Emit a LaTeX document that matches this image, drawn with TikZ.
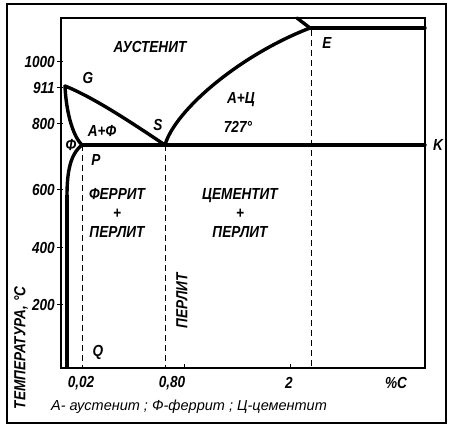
\documentclass[tikz,border=0pt]{standalone}
\usepackage{fontspec}
\setmainfont{Liberation Sans}
\newfontfamily\handfont{Liberation Sans}[FakeStretch=0.85]
\usetikzlibrary{positioning}
\pgfdeclarelayer{nodelayer}
\pgfdeclarelayer{edgelayer}
\pgfsetlayers{nodelayer,edgelayer,main}
\tikzset{
    none/.style = {inner sep=0pt},
    lbl/.style = {inner sep=0pt, font=\handfont\bfseries\itshape\fontsize{16}{19}\selectfont, align=center},
    legend/.style = {inner sep=0pt, font=\itshape\fontsize{14.5}{14.5}\selectfont},
    frame/.style = {line width=1.3pt},
    phase/.style = {line width=3.4pt, line cap=round},
    boundary/.style = {line width=0.9pt, dash pattern=on 6pt off 4pt}
}

\begin{document}
\begin{tikzpicture}[x=1pt, y=-1pt]
    \useasboundingbox (0,0) rectangle (450,430);
    \begin{pgfonlayer}{nodelayer}
        % frames
        \node [style=none] (0) at (7, 4) {};
        \node [style=none] (1) at (446, 423) {};
        \node [style=none] (2) at (61, 18) {};
        \node [style=none] (3) at (425, 368) {};
        % points of the diagram
        \node [style=none] (4) at (65, 86) {};
        \node [style=none] (5) at (165, 145) {};
        \node [style=none] (6) at (82, 145) {};
        \node [style=none] (7) at (425, 145) {};
        \node [style=none] (8) at (310, 28) {};
        \node [style=none] (9) at (297, 18) {};
        \node [style=none] (10) at (425, 28) {};
        \node [style=none] (11) at (67, 195) {};
        \node [style=none] (12) at (67, 367) {};
        \node [style=none] (13) at (82, 367) {};
        \node [style=none] (14) at (165, 367) {};
        \node [style=none] (15) at (311, 367) {};
        \node [style=none] (16) at (311, 30) {};
        % labels
        \node [style=lbl] (17) at (150, 47) {АУСТЕНИТ};
        \node [style=lbl] (18) at (88, 78) {G};
        \node [style=lbl] (19) at (158, 125) {S};
        \node [style=lbl] (20) at (102, 131) {А+Ф};
        \node [style=lbl] (21) at (71, 145) {Ф};
        \node [style=lbl] (22) at (96, 160) {P};
        \node [style=lbl] (23) at (327, 43) {E};
        \node [style=lbl] (24) at (241, 100) {А+Ц};
        \node [style=lbl] (25) at (238, 127) {727°};
        \node [style=lbl] (26) at (438, 145) {K};
        \node [style=lbl] (27) at (117, 213) {ФЕРРИТ\\+\\ПЕРЛИТ};
        \node [style=lbl] (28) at (240, 213) {ЦЕМЕНТИТ\\+\\ПЕРЛИТ};
        \node [style=lbl, rotate=90] (29) at (182, 301) {ПЕРЛИТ};
        \node [style=lbl] (30) at (98, 352) {Q};
        \node [style=lbl] (31) at (81, 383) {0,02};
        \node [style=lbl] (32) at (172, 383) {0,80};
        \node [style=lbl] (33) at (289, 383) {2};
        \node [style=lbl] (34) at (396, 383) {\%C};
        \node [style=legend] (35) at (189, 407) {А- аустенит ; Ф-феррит ; Ц-цементит};
        \node [style=lbl, rotate=90] (36) at (21, 348) {ТЕМПЕРАТУРА, °С};
    \end{pgfonlayer}
    \begin{pgfonlayer}{edgelayer}
        \draw [line width=1.1pt] (0.center) rectangle (1.center);
        \draw [frame] (2.center) rectangle (3.center);
        % temperature scale
        \foreach \t/\y in {1000/62, 911/88, 800/124, 600/190, 400/248, 200/305} {
            \draw [line width=1pt] (57, \y) -- (63, \y);
            \node [style=lbl, anchor=east] at (55, \y) {\t};
        }
        \draw [line width=1pt] (184, 368) -- (184, 364);
        \draw [line width=1pt] (290, 368) -- (290, 364);
        % phase lines
        \draw [phase] (4.center) .. controls (95, 98) and (135, 125) .. (5.center);
        \draw [phase] (4.center) .. controls (66, 110) and (72, 135) .. (6.center);
        \draw [phase] (6.center) .. controls (73, 152) and (67, 165) .. (11.center);
        \draw [phase, line cap=butt] (11.center) to (12.center);
        \draw [phase] (6.center) to (7.center);
        \draw [phase] (5.center) .. controls (175, 110) and (240, 55) .. (8.center);
        \draw [phase] (8.center) to (9.center);
        \draw [phase] (8.center) to (10.center);
        % composition limits
        \draw [boundary] (6.center) to (13.center);
        \draw [boundary] (5.center) to (14.center);
        \draw [boundary] (16.center) to (15.center);
    \end{pgfonlayer}
\end{tikzpicture}
\end{document}
